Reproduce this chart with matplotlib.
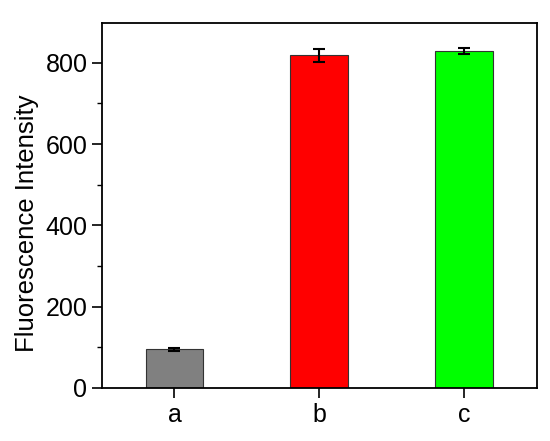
import matplotlib
matplotlib.use("Agg")
import matplotlib.pyplot as plt
import numpy as np
from matplotlib.ticker import MultipleLocator

plt.rcParams["font.family"] = ["Liberation Sans", "DejaVu Sans"]

categories = ["a", "b", "c"]
intensity = [95, 819, 829]
errors = [3, 16, 8]
colors = ["#808080", "#FF0000", "#00FF00"]


def main() -> None:
    figure = plt.figure(figsize=(5.5, 4.41), dpi=100)
    axis = figure.add_axes([0.1855, 0.1202, 0.7905, 0.8278])
    positions = np.arange(1, len(categories) + 1)
    axis.bar(positions, intensity, width=0.4, color=colors, edgecolor="#333333", linewidth=0.8)
    axis.errorbar(positions, intensity, yerr=errors, fmt="none", ecolor="black",
                  elinewidth=1.5, capsize=4, capthick=1.5)
    axis.set_xlim(0.5, 3.5)
    axis.set_ylim(0, 898)
    axis.set_xticks(positions, categories)
    axis.yaxis.set_major_locator(MultipleLocator(200))
    axis.yaxis.set_minor_locator(MultipleLocator(100))
    axis.tick_params(axis="both", which="major", direction="out", length=7, width=1.2, labelsize=18)
    axis.tick_params(axis="y", which="minor", direction="out", length=3.5, width=1.0)
    axis.set_ylabel("Fluorescence Intensity", fontsize=18.5)
    axis.yaxis.set_label_coords(-0.145, 0.45)
    for spine in axis.spines.values():
        spine.set_linewidth(1.3)
    figure.savefig("out.png", dpi=100)
    plt.close(figure)


if __name__ == "__main__":
    main()
